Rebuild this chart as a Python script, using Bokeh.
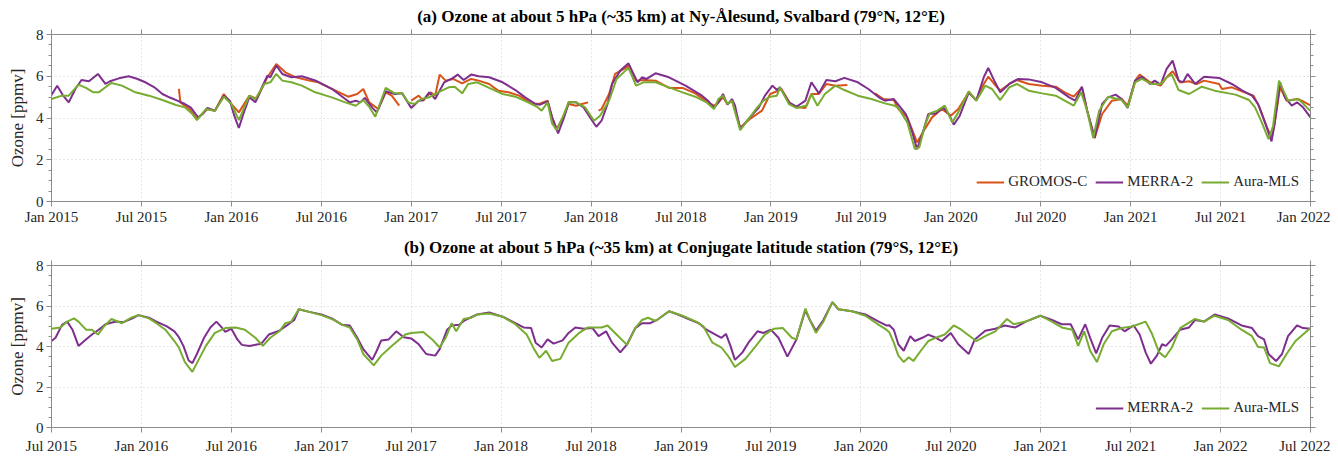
import math
from bokeh.plotting import figure
from bokeh.models import LinearAxis, FixedTicker, Range1d, Legend, LegendItem, CustomLabelingPolicy
from bokeh.layouts import column
from bokeh.embed import file_html
from bokeh.resources import INLINE

# ---------------- data ----------------
# x values: months since first tick (top panel: Jan 2015, bottom panel: Jul 2015)
top_tick_labels = ["Jan 2015", "Jul 2015", "Jan 2016", "Jul 2016", "Jan 2017", "Jul 2017", "Jan 2018",
                   "Jul 2018", "Jan 2019", "Jul 2019", "Jan 2020", "Jul 2020", "Jan 2021", "Jul 2021", "Jan 2022"]
bot_tick_labels = ["Jul 2015", "Jan 2016", "Jul 2016", "Jan 2017", "Jul 2017", "Jan 2018", "Jul 2018",
                   "Jan 2019", "Jul 2019", "Jan 2020", "Jul 2020", "Jan 2021", "Jul 2021", "Jan 2022", "Jul 2022"]
tick_months = [0, 6, 12, 18, 24, 30, 36, 42, 48, 54, 60, 66, 72, 78, 84]
y_ticks = [0, 2, 4, 6, 8]

# (a) Ny-Alesund
merra_north = [
    (0.0, 5.1), (0.38, 5.55), (0.75, 5.1), (1.15, 4.75), (1.6, 5.4), (2.0, 5.82), (2.5, 5.76), (3.1, 6.11),
    (3.6, 5.63), (3.9, 5.76), (4.5, 5.9), (5.15, 6.0), (5.7, 5.88), (6.3, 5.7), (6.9, 5.45), (7.4, 5.15),
    (7.9, 4.98), (8.4, 4.83), (8.9, 4.67), (9.3, 4.5), (9.6, 4.2), (9.8, 4.03), (10.1, 4.2), (10.4, 4.48),
    (10.9, 4.35), (11.5, 5.07), (11.9, 4.83), (12.2, 4.1), (12.5, 3.52), (12.8, 4.2), (13.2, 5.0), (13.6, 4.75),
    (14.0, 5.4), (14.4, 6.03), (14.6, 5.95), (15.0, 6.51), (15.4, 6.11), (16.0, 5.95), (16.7, 6.0), (17.6, 5.8),
    (18.7, 5.4), (19.6, 4.91), (19.9, 4.75), (20.3, 4.83), (20.6, 4.75), (20.9, 4.96), (21.4, 4.5), (21.7, 4.27),
    (22.3, 5.28), (22.9, 5.15), (23.4, 5.18), (24.0, 4.48), (24.5, 4.83), (24.8, 4.85), (25.2, 5.23), (25.6, 4.91),
    (26.2, 5.71), (26.8, 5.92), (27.1, 6.08), (27.5, 5.82), (28.0, 6.08), (28.5, 6.0), (29.2, 5.95), (30.1, 5.71),
    (30.95, 5.34), (31.6, 4.99), (32.3, 4.67), (32.6, 4.64), (33.1, 4.8), (33.4, 4.03), (33.8, 3.26), (34.2, 4.03),
    (34.5, 4.75), (35.0, 4.75), (35.5, 4.51), (36.0, 3.95), (36.35, 3.58), (36.7, 3.87), (37.1, 4.67), (37.4, 5.63),
    (37.95, 6.27), (38.5, 6.62), (39.1, 5.71), (39.4, 5.95), (39.7, 5.87), (40.3, 6.14), (41.2, 5.95), (42.3, 5.55),
    (43.4, 5.07), (43.8, 4.83), (44.2, 4.48), (44.5, 4.75), (44.8, 5.15), (45.1, 4.64), (45.4, 4.91), (45.6, 4.6),
    (45.95, 3.47), (46.5, 3.95), (47.2, 4.51), (47.6, 5.07), (48.1, 5.55), (48.4, 5.34), (48.6, 5.47), (49.2, 4.75),
    (49.7, 4.54), (50.3, 4.83), (50.7, 5.71), (51.2, 5.18), (51.7, 5.82), (52.3, 5.76), (52.9, 5.92), (53.8, 5.71),
    (54.5, 5.39), (55.2, 4.99), (55.6, 4.83), (56.2, 4.91), (57.0, 4.19), (57.4, 3.39), (57.75, 2.51), (58.1, 3.23),
    (58.5, 4.19), (59.0, 4.22), (59.5, 4.51), (59.86, 4.19), (60.2, 3.68), (60.6, 4.11), (61.2, 5.23), (61.7, 4.83),
    (62.2, 5.95), (62.5, 6.4), (62.9, 5.79), (63.3, 5.23), (63.9, 5.63), (64.5, 5.87), (65.2, 5.85), (66.1, 5.71),
    (67.0, 5.44), (67.9, 4.99), (68.3, 4.83), (68.75, 5.5), (69.1, 4.35), (69.6, 3.04), (70.1, 4.67), (70.5, 4.99),
    (71.0, 5.12), (71.4, 4.91), (71.8, 4.48), (72.3, 5.79), (72.75, 5.98), (73.3, 5.63), (73.6, 5.79), (74.0, 5.6),
    (74.4, 6.35), (74.8, 6.75), (75.2, 5.79), (75.5, 5.72), (75.8, 6.11), (76.3, 5.63), (76.9, 5.98), (77.9, 5.92),
    (78.75, 5.63), (79.4, 5.34), (80.1, 5.07), (80.5, 4.67), (81.0, 3.71), (81.4, 2.88), (81.6, 3.71), (81.97, 5.71),
    (82.3, 4.99), (82.75, 4.59), (83.1, 4.75), (83.5, 4.51), (84.0, 4.03),
]
mls_north = [
    (0.0, 4.91), (0.7, 5.07), (1.15, 5.07), (1.8, 5.6), (2.3, 5.44), (2.8, 5.23), (3.15, 5.23), (3.6, 5.47),
    (4.0, 5.68), (4.7, 5.55), (5.6, 5.23), (6.5, 5.07), (7.4, 4.86), (8.3, 4.62), (8.9, 4.51), (9.4, 4.19),
    (9.7, 3.9), (10.3, 4.43), (10.9, 4.35), (11.5, 5.02), (12.0, 4.67), (12.5, 3.9), (13.2, 5.07), (13.6, 4.91),
    (14.2, 5.63), (14.6, 5.71), (15.0, 6.11), (15.4, 5.79), (16.0, 5.71), (16.7, 5.55), (17.6, 5.23), (18.7, 4.99),
    (19.6, 4.75), (20.3, 4.59), (20.8, 4.86), (21.2, 4.54), (21.6, 4.06), (22.3, 5.44), (22.9, 5.18), (23.4, 5.18),
    (23.8, 4.75), (24.2, 4.67), (24.7, 4.91), (25.2, 4.99), (25.8, 5.23), (26.5, 5.47), (26.9, 5.5), (27.4, 5.18),
    (27.8, 5.63), (28.4, 5.71), (29.2, 5.44), (30.1, 5.15), (30.95, 5.02), (31.8, 4.75), (32.4, 4.54), (32.7, 4.35),
    (33.1, 4.75), (33.4, 3.74), (33.7, 3.42), (34.1, 4.03), (34.5, 4.75), (35.0, 4.75), (35.6, 4.51), (36.2, 3.87),
    (36.6, 4.11), (37.2, 4.83), (37.7, 5.87), (38.3, 6.27), (38.5, 6.4), (39.0, 5.55), (39.5, 5.71), (40.3, 5.71),
    (41.2, 5.47), (42.1, 5.23), (42.95, 5.02), (43.7, 4.75), (44.2, 4.43), (44.5, 4.91), (44.8, 5.07), (45.1, 4.67),
    (45.4, 4.83), (45.95, 3.42), (46.5, 3.95), (47.0, 4.43), (47.5, 4.83), (47.95, 5.02), (48.4, 5.07), (48.6, 5.47),
    (49.2, 4.67), (49.7, 4.48), (50.4, 4.6), (50.7, 5.15), (51.1, 4.59), (51.6, 5.15), (52.3, 5.55), (52.9, 5.34),
    (53.8, 5.07), (54.7, 4.91), (55.6, 4.7), (56.2, 4.6), (56.5, 4.48), (57.1, 3.79), (57.6, 2.51), (57.9, 2.6),
    (58.3, 3.71), (58.6, 4.22), (59.1, 4.35), (59.6, 4.59), (60.1, 3.79), (60.5, 4.27), (61.2, 5.28), (61.7, 4.83),
    (62.3, 5.55), (62.75, 5.39), (63.3, 4.86), (63.9, 5.47), (64.4, 5.63), (65.2, 5.31), (66.1, 5.18), (67.0, 5.07),
    (67.6, 4.83), (68.2, 4.59), (68.7, 5.23), (69.1, 4.35), (69.5, 3.04), (69.9, 4.35), (70.5, 5.02), (71.4, 4.86),
    (71.8, 4.51), (72.3, 5.71), (72.75, 5.87), (73.4, 5.63), (74.0, 5.63), (74.4, 5.95), (74.75, 6.08), (75.2, 5.34),
    (75.9, 5.15), (76.75, 5.5), (77.6, 5.31), (79.0, 5.12), (79.9, 4.86), (80.3, 4.51), (80.75, 3.79), (81.2, 2.99),
    (81.5, 3.6), (81.9, 5.79), (82.2, 5.3), (82.5, 4.83), (83.2, 4.91), (83.9, 4.4), (84.0, 4.35),
]
gromos_seg1 = [
    (8.5, 5.39), (8.6, 4.75), (9.2, 4.43), (9.7, 3.95), (10.4, 4.43), (10.9, 4.35), (11.5, 5.15), (12.0, 4.67),
    (12.5, 4.27), (13.2, 5.07), (13.7, 4.91), (14.4, 5.95), (15.0, 6.59), (15.6, 6.19), (16.3, 5.95), (17.2, 5.79),
    (17.8, 5.71), (18.5, 5.47), (19.2, 5.23), (19.8, 5.02), (20.4, 5.15), (20.8, 5.39), (21.2, 4.75), (21.8, 4.43),
    (22.3, 5.23), (22.7, 5.07), (23.2, 4.59),
]
gromos_seg2 = [
    (24.0, 4.83), (24.5, 5.07), (24.8, 4.83), (25.3, 5.23), (25.6, 5.07), (25.9, 6.08), (26.3, 5.79), (26.8, 5.87),
    (27.4, 5.66), (28.0, 5.87), (28.5, 5.79), (29.2, 5.63), (29.8, 5.31), (30.5, 5.23), (31.2, 5.07), (32.1, 4.67),
    (32.6, 4.7), (33.1, 4.83), (33.4, 4.03), (33.7, 3.47), (34.2, 4.11), (34.5, 4.67), (35.0, 4.59), (35.4, 4.67),
    (35.8, 4.75),
]
gromos_seg3 = [
    (36.5, 4.35), (36.7, 4.43), (37.2, 5.15), (37.6, 6.11), (38.2, 6.35), (38.5, 6.51), (39.0, 5.79), (39.5, 5.82),
    (40.3, 5.79), (41.2, 5.44), (42.1, 5.44), (42.95, 5.18), (43.8, 4.75), (44.2, 4.59), (44.5, 4.75), (44.8, 4.99),
    (45.1, 4.67), (45.4, 4.83), (45.95, 3.55), (46.6, 3.95), (47.4, 4.35), (47.95, 5.15), (48.4, 5.28), (48.7, 5.39),
    (49.3, 4.67), (49.8, 4.51), (50.3, 4.48), (50.7, 5.15), (51.2, 5.15), (51.7, 5.63), (52.3, 5.55), (53.1, 5.58),
]
gromos_seg4 = [
    (54.95, 5.18), (55.5, 4.91), (56.2, 4.86), (56.5, 4.43), (57.1, 4.03), (57.75, 2.83), (58.2, 3.39), (58.75, 4.03),
    (59.4, 4.43), (60.0, 4.11), (60.5, 4.43), (61.2, 5.23), (61.7, 4.86), (62.2, 5.63), (62.5, 5.98), (62.9, 5.63),
    (63.3, 5.31), (63.9, 5.63), (64.4, 5.82), (65.2, 5.63), (66.1, 5.55), (67.0, 5.5), (67.6, 5.23), (68.2, 5.02),
    (68.75, 5.47), (69.1, 4.35), (69.6, 3.04), (70.1, 4.19), (70.75, 4.83), (71.4, 4.91), (71.8, 4.59), (72.3, 5.79),
    (72.6, 6.08), (73.3, 5.71), (74.0, 5.55), (74.4, 5.95), (74.8, 6.24), (75.3, 5.7), (75.9, 5.76), (76.4, 5.63),
    (76.9, 5.79), (77.9, 5.63), (78.1, 5.39), (78.75, 5.47), (79.6, 5.23), (80.2, 5.07), (80.6, 4.51), (81.1, 3.55),
    (81.4, 3.04), (81.6, 3.7), (81.97, 5.47), (82.4, 4.83), (83.1, 4.91), (83.5, 4.8), (83.9, 4.64), (84.0, 4.62),
]

# (b) Conjugate latitude station
merra_south = [
    (0.0, 4.27), (0.27, 4.43), (0.7, 5.07), (1.05, 5.23), (1.4, 4.83), (1.8, 4.03), (2.3, 4.35), (2.7, 4.59),
    (3.15, 4.83), (3.6, 5.1), (4.3, 5.23), (4.8, 5.2), (5.4, 5.39), (5.8, 5.55), (6.5, 5.42), (7.0, 5.23),
    (7.7, 4.99), (8.2, 4.75), (8.5, 4.46), (8.8, 4.03), (9.15, 3.31), (9.4, 3.18), (9.7, 3.63), (10.2, 4.46),
    (10.6, 4.94), (11.0, 5.23), (11.4, 4.91), (11.6, 4.72), (12.0, 4.88), (12.4, 4.35), (12.7, 4.08), (13.2, 4.03),
    (14.0, 4.14), (14.5, 4.59), (15.2, 4.78), (15.7, 5.04), (16.2, 5.31), (16.5, 5.84), (17.2, 5.71), (18.0, 5.58),
    (18.7, 5.39), (19.4, 5.07), (19.9, 5.04), (20.4, 4.43), (20.8, 3.87), (21.4, 3.34), (21.7, 3.79), (22.0, 4.3),
    (22.5, 4.35), (23.0, 4.75), (23.5, 4.46), (24.0, 4.4), (24.5, 4.11), (25.0, 3.63), (25.6, 3.55), (25.9, 3.87),
    (26.4, 4.83), (26.7, 5.04), (27.2, 5.07), (27.6, 5.31), (28.4, 5.58), (29.2, 5.68), (30.1, 5.47), (30.95, 5.15),
    (31.5, 4.94), (32.0, 4.91), (32.3, 4.19), (32.7, 3.95), (33.1, 4.35), (33.5, 4.14), (34.1, 4.3), (34.5, 4.67),
    (34.95, 4.94), (35.5, 4.88), (36.1, 4.91), (36.5, 4.51), (37.0, 4.75), (37.4, 4.19), (37.95, 3.71), (38.4, 4.11),
    (38.95, 4.91), (39.4, 5.15), (39.95, 5.15), (40.4, 5.31), (41.2, 5.74), (41.8, 5.58), (42.5, 5.36), (43.2, 5.15),
    (43.7, 4.83), (44.3, 4.59), (44.7, 4.43), (45.0, 4.62), (45.3, 4.03), (45.6, 3.34), (46.1, 3.71), (46.5, 4.19),
    (47.1, 4.75), (47.5, 4.67), (48.0, 4.83), (48.5, 4.43), (49.1, 3.5), (49.7, 4.35), (50.3, 5.79), (50.6, 5.31),
    (51.0, 4.78), (51.5, 5.31), (52.1, 6.19), (52.5, 5.84), (53.4, 5.74), (54.3, 5.58), (55.2, 5.23), (55.7, 5.04),
    (55.9, 5.05), (56.2, 4.83), (56.5, 4.11), (56.86, 3.79), (57.3, 4.51), (57.6, 4.27), (58.1, 4.43), (58.5, 4.59),
    (59.0, 4.43), (59.4, 4.27), (60.0, 4.67), (60.5, 4.11), (61.2, 3.63), (61.6, 4.35), (62.3, 4.78), (62.97, 4.88),
    (63.6, 5.04), (64.3, 4.94), (65.0, 5.23), (65.97, 5.52), (66.75, 5.31), (67.4, 5.1), (68.0, 5.1), (68.5, 4.35),
    (68.97, 5.1), (69.3, 4.43), (69.7, 3.66), (70.1, 4.43), (70.6, 5.04), (71.2, 4.99), (71.6, 4.75), (72.2, 5.04),
    (72.6, 4.59), (73.0, 3.71), (73.35, 3.15), (73.75, 3.55), (74.1, 4.11), (74.35, 4.03), (74.75, 4.35), (75.3, 4.83),
    (75.9, 4.94), (76.3, 5.31), (76.9, 5.23), (77.6, 5.58), (78.5, 5.39), (79.4, 5.04), (80.1, 4.91), (80.5, 4.51),
    (80.9, 4.35), (81.2, 3.63), (81.7, 3.28), (82.1, 3.63), (82.5, 4.51), (83.1, 5.04), (83.5, 4.91), (84.0, 4.88),
]
mls_south = [
    (0.0, 4.88), (0.6, 4.94), (1.05, 5.23), (1.5, 5.39), (1.8, 5.23), (2.3, 4.83), (2.7, 4.83), (3.1, 4.59),
    (3.5, 4.99), (4.0, 5.36), (4.7, 5.15), (5.3, 5.42), (5.8, 5.55), (6.5, 5.39), (7.0, 5.15), (7.6, 4.83),
    (8.2, 4.27), (8.5, 3.95), (8.9, 3.23), (9.4, 2.75), (9.7, 3.18), (10.3, 4.03), (10.9, 4.67), (11.6, 4.91),
    (12.3, 4.94), (12.9, 4.83), (13.6, 4.43), (14.1, 4.03), (14.6, 4.43), (15.2, 4.75), (15.6, 5.15), (16.0, 5.23),
    (16.5, 5.84), (17.2, 5.71), (18.0, 5.55), (18.7, 5.36), (19.4, 5.07), (19.9, 4.94), (20.4, 4.35), (20.8, 3.63),
    (21.5, 3.07), (22.0, 3.55), (22.7, 4.03), (23.6, 4.59), (24.0, 4.67), (24.8, 4.72), (25.4, 4.35), (25.9, 3.95),
    (26.3, 4.43), (26.7, 5.15), (27.0, 4.75), (27.5, 5.36), (28.0, 5.42), (28.4, 5.58), (29.2, 5.63), (30.1, 5.47),
    (30.95, 5.1), (31.7, 4.59), (32.2, 3.87), (32.55, 3.44), (33.0, 3.79), (33.4, 3.28), (33.95, 3.39), (34.5, 4.19),
    (35.2, 4.67), (35.8, 4.94), (36.7, 4.94), (37.1, 5.04), (37.6, 4.67), (38.4, 4.08), (38.95, 4.91), (39.4, 5.31),
    (39.8, 5.42), (40.3, 5.26), (40.7, 5.47), (41.2, 5.74), (42.1, 5.52), (43.0, 5.23), (43.5, 4.99), (44.1, 4.19),
    (44.7, 3.95), (45.2, 3.47), (45.6, 2.99), (46.3, 3.39), (47.0, 4.03), (47.6, 4.59), (48.2, 4.88), (48.8, 4.91),
    (49.4, 4.43), (49.7, 4.35), (50.3, 5.87), (50.6, 5.3), (51.0, 4.67), (51.5, 5.23), (52.1, 6.19), (52.5, 5.84),
    (53.4, 5.74), (54.3, 5.52), (55.2, 5.07), (55.7, 4.83), (55.9, 4.7), (56.2, 4.19), (56.5, 3.55), (56.86, 3.23),
    (57.2, 3.47), (57.5, 3.28), (58.0, 3.79), (58.5, 4.27), (59.1, 4.46), (59.6, 4.59), (60.2, 5.04), (60.7, 4.83),
    (61.7, 4.27), (62.3, 4.51), (62.97, 4.75), (63.75, 5.36), (64.2, 5.1), (65.0, 5.23), (65.97, 5.52), (66.75, 5.23),
    (67.4, 4.94), (68.1, 4.83), (68.5, 4.03), (68.9, 4.75), (69.3, 3.79), (69.75, 3.23), (70.2, 4.11), (70.75, 4.75),
    (71.4, 4.91), (72.1, 4.99), (73.0, 5.23), (73.4, 4.67), (73.9, 3.71), (74.3, 3.47), (74.75, 3.95), (75.3, 4.91),
    (76.0, 5.23), (76.3, 5.36), (76.9, 5.23), (77.6, 5.52), (78.5, 5.31), (79.4, 4.83), (80.1, 4.51), (80.5, 3.98),
    (80.9, 3.95), (81.3, 3.18), (81.9, 3.02), (82.4, 3.63), (83.0, 4.27), (83.5, 4.59), (84.0, 4.91),
]

# ---------------- styling ----------------
FONT = "Liberation Serif"
AX_COL = "#8c8c8c"
TXT_COL = "#262626"
C_GROMOS = "#D95319"
C_MERRA = "#7E2F8E"
C_MLS = "#77AC30"
W = 1330

NO_LABELS = CustomLabelingPolicy(code="""
if (typeof indices.clear === 'function') { indices.clear(); }
else { for (let i = 0; i < indices.size; i++) { indices.unset(i); } }
return indices;
""")


def xy(points):
    return [p[0] for p in points], [p[1] for p in points]


def join_segments(*segs):
    xs, ys = [], []
    for i, s in enumerate(segs):
        if i > 0:
            xs.append(float("nan"))
            ys.append(float("nan"))
        a, b = xy(s)
        xs += a
        ys += b
    return xs, ys


def style_axis(ax, show_labels=True):
    ax.axis_line_color = AX_COL
    ax.major_tick_line_color = AX_COL
    ax.minor_tick_line_color = AX_COL
    ax.major_tick_in = 0
    ax.major_tick_out = 5
    ax.minor_tick_in = 0
    ax.minor_tick_out = 3
    ax.major_label_text_font = FONT
    ax.major_label_text_color = TXT_COL
    if show_labels:
        ax.major_label_text_font_size = "15px"
    else:
        ax.major_label_text_font_size = "1px"
        ax.major_label_standoff = 0
        ax.major_label_policy = NO_LABELS


def make_panel(title, tick_labels, height, top_border, bottom_border, label_standoff, series, legend_names):
    p = figure(width=W, height=height, output_backend="svg", toolbar_location=None,
               x_range=Range1d(0, 84), y_range=Range1d(0, 8),
               min_border_left=51, min_border_right=20, min_border_top=top_border,
               min_border_bottom=bottom_border, x_axis_location=None, y_axis_location=None)
    p.title.text = title
    p.title.align = "center"
    p.title.text_font = FONT
    p.title.text_font_size = "17px"
    p.title.text_font_style = "bold"
    p.title.text_color = "#000000"
    p.title.standoff = 0
    p.title.offset = 0

    xt = FixedTicker(ticks=tick_months, minor_ticks=[])
    yt = FixedTicker(ticks=y_ticks, minor_ticks=[i * 0.5 for i in range(17)])
    overrides = {m: lbl for m, lbl in zip(tick_months, tick_labels)}

    xb = LinearAxis(ticker=xt, major_label_overrides=overrides)
    style_axis(xb)
    xb.major_label_standoff = label_standoff
    p.add_layout(xb, "below")
    xa = LinearAxis(ticker=xt)
    style_axis(xa, show_labels=False)
    p.add_layout(xa, "above")

    yl = LinearAxis(ticker=yt, axis_label="Ozone [ppmv]")
    style_axis(yl)
    yl.major_label_standoff = 3
    yl.axis_label_text_font = FONT
    yl.axis_label_text_font_size = "17px"
    yl.axis_label_text_font_style = "normal"
    yl.axis_label_text_color = TXT_COL
    yl.axis_label_standoff = 6
    p.add_layout(yl, "left")
    yr = LinearAxis(ticker=yt)
    style_axis(yr, show_labels=False)
    p.add_layout(yr, "right")

    p.xgrid.ticker = xt
    p.ygrid.ticker = yt
    for g in (p.xgrid, p.ygrid):
        g.grid_line_color = "#cfcfcf"
        g.grid_line_dash = "1 3"
        g.grid_line_width = 1
    p.outline_line_color = AX_COL
    p.background_fill_color = "white"
    p.border_fill_color = "white"

    renderers = {}
    for name, (xs, ys, color) in series.items():
        renderers[name] = p.line(xs, ys, line_color=color, line_width=2)

    items = [LegendItem(label=n, renderers=[renderers[n]]) for n in legend_names]
    leg = Legend(items=items, orientation="horizontal", location="bottom_right",
                 border_line_alpha=0, background_fill_alpha=0,
                 label_text_font=FONT, label_text_font_size="15px", label_text_color=TXT_COL,
                 glyph_width=28, glyph_height=16, label_standoff=4, spacing=8,
                 padding=4, margin=7)
    p.add_layout(leg)
    return p


gx, gy = join_segments(gromos_seg1, gromos_seg2, gromos_seg3, gromos_seg4)
mnx, mny = xy(merra_north)
lnx, lny = xy(mls_north)
msx, msy = xy(merra_south)
lsx, lsy = xy(mls_south)

p1 = make_panel("(a) Ozone at about 5 hPa (~35 km) at Ny-Ålesund, Svalbard (79°N, 12°E)",
                top_tick_labels, 235, 34, 34, 2,
                {"GROMOS-C": (gx, gy, C_GROMOS), "MERRA-2": (mnx, mny, C_MERRA), "Aura-MLS": (lnx, lny, C_MLS)},
                ["GROMOS-C", "MERRA-2", "Aura-MLS"])
p2 = make_panel("(b) Ozone at about 5 hPa (~35 km) at Conjugate latitude station (79°S, 12°E)",
                bot_tick_labels, 222, 26, 30, 5,
                {"MERRA-2": (msx, msy, C_MERRA), "Aura-MLS": (lsx, lsy, C_MLS)},
                ["MERRA-2", "Aura-MLS"])

layout = column(p1, p2, spacing=0)
open("out.html", "w").write(file_html(layout, INLINE))
